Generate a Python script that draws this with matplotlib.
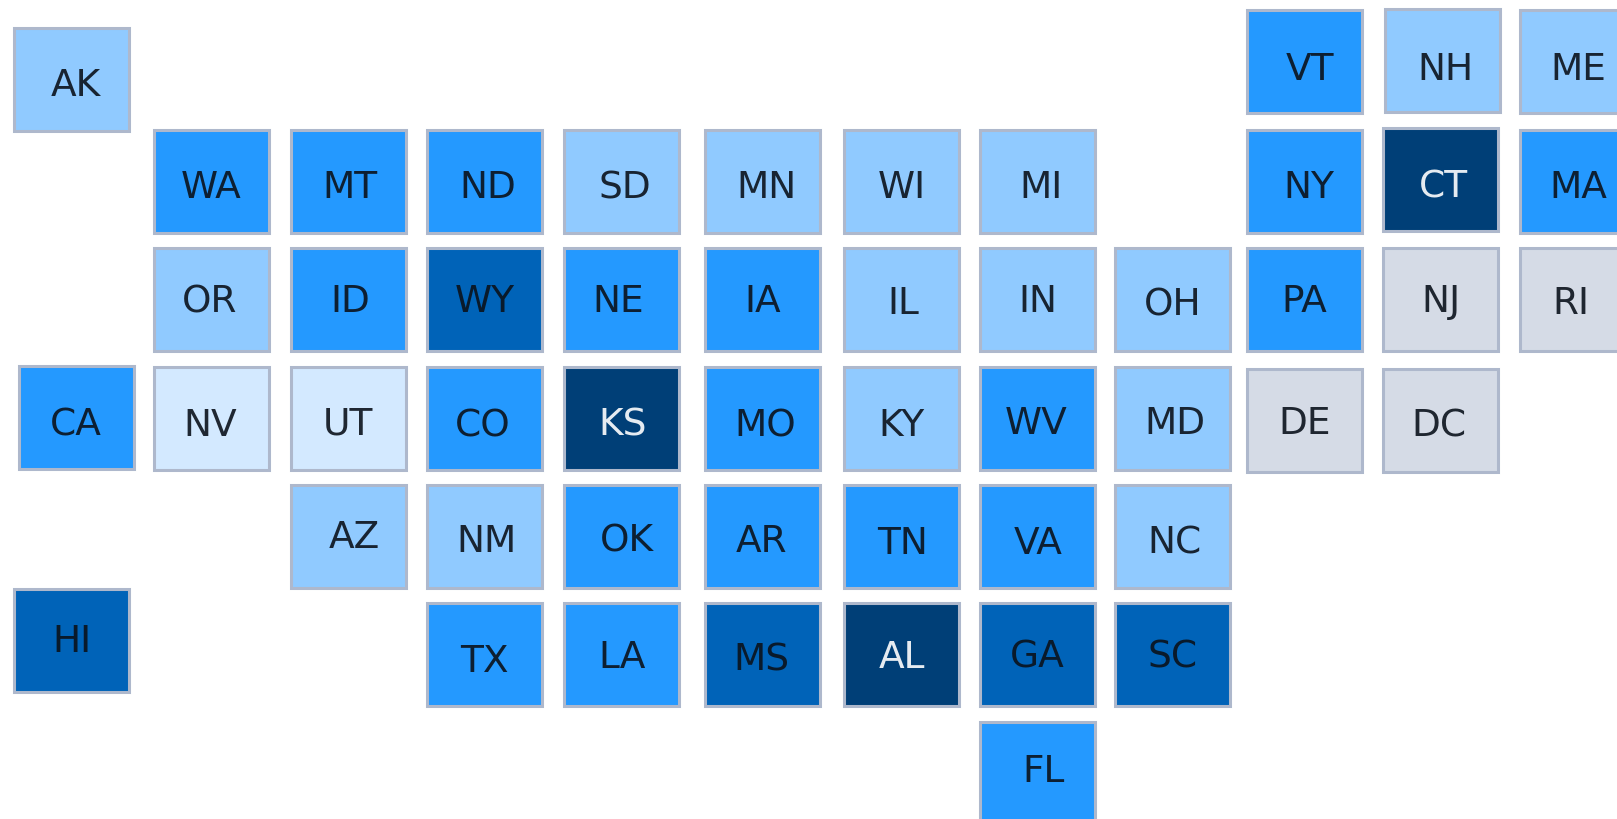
import matplotlib
matplotlib.use("Agg")
import matplotlib.pyplot as plt
from matplotlib.patches import Rectangle

### dados: estado, classe de valor (0 = sem dado ... 4 = mais alto)
states = ["AK", "VT", "NH", "ME",
          "WA", "MT", "ND", "SD", "MN", "WI", "MI", "NY", "CT", "MA",
          "OR", "ID", "WY", "NE", "IA", "IL", "IN", "OH", "PA", "NJ", "RI",
          "CA", "NV", "UT", "CO", "KS", "MO", "KY", "WV", "MD", "DE", "DC",
          "AZ", "NM", "OK", "AR", "TN", "VA", "NC",
          "HI", "TX", "LA", "MS", "AL", "GA", "SC",
          "FL"]
levels = ["light", "mid", "light", "light",
          "mid", "mid", "mid", "light", "light", "light", "light", "mid", "navy", "mid",
          "light", "mid", "dark", "mid", "mid", "light", "light", "light", "mid", "gray", "gray",
          "mid", "pale", "pale", "mid", "navy", "mid", "light", "mid", "light", "gray", "gray",
          "light", "light", "mid", "mid", "mid", "mid", "light",
          "dark", "mid", "mid", "dark", "navy", "dark", "dark",
          "mid"]
cols = [0, 9, 10, 11,
        1, 2, 3, 4, 5, 6, 7, 9, 10, 11,
        1, 2, 3, 4, 5, 6, 7, 8, 9, 10, 11,
        0, 1, 2, 3, 4, 5, 6, 7, 8, 9, 10,
        2, 3, 4, 5, 6, 7, 8,
        0, 3, 4, 5, 6, 7, 8,
        7]
rows = [0, 0, 0, 0,
        1, 1, 1, 1, 1, 1, 1, 1, 1, 1,
        2, 2, 2, 2, 2, 2, 2, 2, 2, 2, 2,
        3, 3, 3, 3, 3, 3, 3, 3, 3, 3, 3,
        4, 4, 4, 4, 4, 4, 4,
        5, 5, 5, 5, 5, 5, 5,
        6]

### grade em pixels
col_left = [15, 154, 291, 427, 564, 705, 844, 980, 1115, 1247, 1383, 1520]
row_top = [10, 130, 248, 367, 485, 603, 722]
tile_w = 115
tile_h = 103

### ajustes finos de alguns quadrados e rotulos
tile_nudge = {"AK": (-1, 18), "CA": (4, -1), "HI": (-1, -14), "NH": (2, -1), "CT": (0, -2),
              "DE": (0, 2), "DC": (0, 2)}
label_nudge = {"AK": (4, 4), "VT": (5, 6), "NH": (3, 6), "ME": (1, 6), "ND": (3, 4), "SD": (3, 4),
               "MN": (4, 4), "MI": (3, 4), "WA": (0, 4), "MT": (1, 4), "WI": (0, 4), "NY": (4, 4),
               "CT": (3, 5), "MA": (1, 4), "OR": (-2, 0), "NE": (-3, -1), "IL": (2, 1), "OH": (0, 3),
               "RI": (-7, 1), "ID": (2, 0), "MO": (3, 5), "AZ": (6, -1), "OK": (5, 2), "FL": (6, -5),
               "CA": (-1, 5), "NV": (-1, 4), "UT": (-1, 3), "CO": (-2, 5), "KS": (1, 4), "KY": (0, 5),
               "WV": (-1, 3), "MD": (2, 3), "DE": (0, 1), "DC": (-2, 3), "NM": (2, 2), "TN": (1, 4),
               "VA": (1, 4), "NC": (2, 4), "TX": (0, 4), "LA": (1, 0), "MS": (-1, 3), "HI": (0, -2),
               "AR": (-1, 2)}

fill = {"gray": "#D5DBE6", "pale": "#D3E9FF", "light": "#90CAFF",
        "mid": "#2499FF", "dark": "#0063B8", "navy": "#003F77"}
plt.rcParams["font.family"] = ["DejaVu Sans"]

fig = plt.figure(figsize=(16.17, 8.19), dpi=100)
ax = fig.add_axes([0, 0, 1, 1])
ax.set_xlim(0, 1617)
ax.set_ylim(819, 0)
ax.axis("off")

for st, lev, c, r in zip(states, levels, cols, rows):
    dx, dy = tile_nudge.get(st, (0, 0))
    x = col_left[c] + dx
    y = row_top[r] + dy
    ax.add_patch(Rectangle((x, y), tile_w, tile_h, facecolor=fill[lev],
                           edgecolor="#AEB8CC", linewidth=2.2))
    lx, ly = label_nudge.get(st, (0, 0))
    ax.text(x + tile_w / 2 + lx, y + tile_h / 2 + ly - 1, st,
            color="white" if lev == "navy" else "#0B121C",
            fontsize=27, ha="center", va="center_baseline", alpha=0.9)

plt.savefig("out.png", dpi=100)
plt.close("all")
